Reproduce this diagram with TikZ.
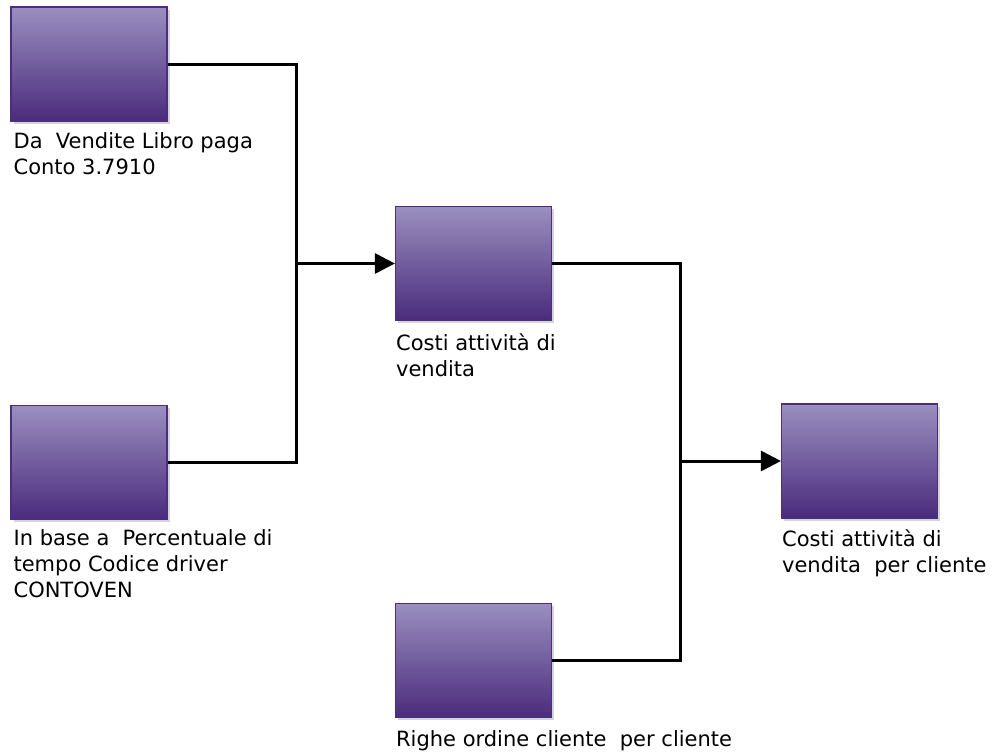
\documentclass[tikz,border=0pt]{standalone}
\usepackage{fontspec}
\setmainfont{DejaVu Sans}
\usetikzlibrary{positioning,arrows.meta,shadows}
\definecolor{boxtop}{HTML}{9A8FBF}
\definecolor{boxbot}{HTML}{4A2B7C}
\definecolor{boxline}{HTML}{4B2E80}
\tikzset{
  actbox/.style={draw=boxline,line width=1.2pt,top color=boxtop,bottom color=boxbot,
    minimum width=156pt,minimum height=114pt,inner sep=0pt,
    general shadow={fill=black!17,shadow xshift=2.5pt,shadow yshift=-2.5pt}},
  lbl/.style={anchor=north west,inner sep=0pt,align=left,font=\fontsize{21}{26}\selectfont},
  link/.style={line width=3pt},
  linkarrow/.style={link,-{Triangle[length=20pt,width=20pt]}},
}
\begin{document}
\begin{tikzpicture}[x=1pt,y=-1pt]
  \useasboundingbox (0,0) rectangle (993,753);
  \node[actbox] (libro) at (89,64) {};
  \node[actbox,below=283pt of libro] (base) {};
  \node[actbox] (costi) at (473.5,263.5) {};
  \node[actbox,below=282pt of costi] (righe) {};
  \node[actbox] (cliente) at (859.5,461) {};
  \node[lbl,below right=11pt and 3pt of libro.south west] {Da\ \ Vendite Libro paga\\Conto 3.7910};
  \node[lbl,below right=10pt and 3pt of base.south west] {In base a\ \ Percentuale di\\tempo Codice driver\\CONTOVEN};
  \node[lbl,below right=12pt and 1pt of costi.south west] {Costi attività di\\vendita};
  \node[lbl,below right=12pt and 1pt of righe.south west] {Righe ordine cliente\ \ per cliente};
  \node[lbl,below right=11pt and 1pt of cliente.south west] {Costi attività di\\vendita\ \ per cliente};
  \coordinate (j1) at (296,263.5);
  \coordinate (j2) at (680,461);
  \draw[link] (libro.east) -| (j1);
  \draw[link] (base.east) -| (j1);
  \draw[linkarrow] (j1) -- (costi.west);
  \draw[link] (costi.east) -| (j2);
  \draw[link] (righe.east) -| (j2);
  \draw[linkarrow] (j2) -- (cliente.west);
\end{tikzpicture}
\end{document}
